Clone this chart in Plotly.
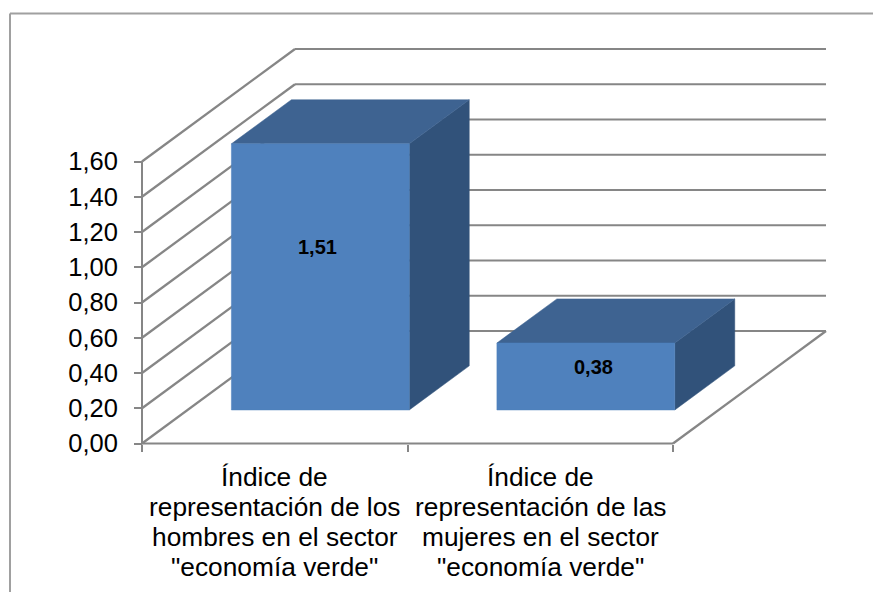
import plotly.graph_objects as go

# --- data ---
category_lines = [['Índice de', 'representación de los', 'hombres en el sector', '"economía verde"'],
                  ['Índice de', 'representación de las', 'mujeres en el sector', '"economía verde"']]
values = [1.51, 0.38]
value_labels = ['1,51', '0,38']
y_ticks = [0, 0.2, 0.4, 0.6, 0.8, 1.0, 1.2, 1.4, 1.6]
y_tick_labels = ['0,00', '0,20', '0,40', '0,60', '0,80', '1,00', '1,20', '1,40', '1,60']

# --- geometry of the oblique projection (page has an 8px body margin) ---
PAGE_MARGIN = 8
W, H = 881 - PAGE_MARGIN, 592 - PAGE_MARGIN
X0, Y0 = 142 - PAGE_MARGIN, 443.5 - PAGE_MARGIN   # pixel of the origin
UX = 265.5               # pixels per category
UY = 176.25              # pixels per value unit
DX, DY = 153 / UX, 112.5 / UY   # depth vector, in axis units
BAR_MARGIN = 0.165
BAR_D0, BAR_D1 = 0.298, 0.69
LABEL_SHIFT = [(-3, 30), (8, 9)]
LINE_PITCH = 30
FIRST_LINE = 33

GRID = '#868686'
FRONT, TOP, SIDE = '#4F81BD', '#3E6391', '#31527A'
FONT = 'Liberation Sans, Arial, sans-serif'
TICK_FONT_SIZE = 25.5
CAT_FONT_SIZE = 26.3


def pr(u, v, d=0.0):
    return u + DX * d, v + DY * d


def poly(points, color):
    xs = [p[0] for p in points] + [points[0][0]]
    ys = [p[1] for p in points] + [points[0][1]]
    return go.Scatter(x=xs, y=ys, mode='lines', fill='toself', fillcolor=color,
                      line=dict(color=color, width=0.5), hoverinfo='skip', showlegend=False)


def segs(pairs, width=2):
    xs, ys = [], []
    for a, b in pairs:
        xs += [a[0], b[0], None]
        ys += [a[1], b[1], None]
    return go.Scatter(x=xs, y=ys, mode='lines', line=dict(color=GRID, width=width),
                      hoverinfo='skip', showlegend=False)


n = len(values)
fig = go.Figure()
annotations = []

# walls: back gridlines, side-wall gridlines, floor, axes
fig.add_trace(segs([(pr(0, t, 1), pr(n, t, 1)) for t in y_ticks]))
fig.add_trace(segs([(pr(0, t, 0), pr(0, t, 1)) for t in y_ticks], width=2.3))
fig.add_trace(segs([(pr(n, 0, 0), pr(n, 0, 1))], width=2.3))
fig.add_trace(segs([(pr(0, 0), pr(n, 0)), (pr(0, 0), pr(0, y_ticks[-1]))]))

# bars
for i, v in enumerate(values):
    a, b = i + BAR_MARGIN, i + 1 - BAR_MARGIN
    fig.add_trace(poly([pr(b, 0, BAR_D0), pr(b, 0, BAR_D1), pr(b, v, BAR_D1), pr(b, v, BAR_D0)], SIDE))
    fig.add_trace(poly([pr(a, v, BAR_D0), pr(b, v, BAR_D0), pr(b, v, BAR_D1), pr(a, v, BAR_D1)], TOP))
    fig.add_trace(poly([pr(a, 0, BAR_D0), pr(b, 0, BAR_D0), pr(b, v, BAR_D0), pr(a, v, BAR_D0)], FRONT))
    cx, cy = pr((a + b) / 2, v / 2, BAR_D0)
    annotations.append(dict(x=cx, y=cy, xref='x', yref='y', text='<b>%s</b>' % value_labels[i],
                            showarrow=False, font=dict(family=FONT, size=20, color='#000000'),
                            xshift=LABEL_SHIFT[i][0], yshift=LABEL_SHIFT[i][1]))

# category labels, one per text line
for i, lines in enumerate(category_lines):
    for j, line in enumerate(lines):
        annotations.append(dict(x=i + 0.5, y=0, xref='x', yref='y', text=line, showarrow=False,
                                font=dict(family=FONT, size=CAT_FONT_SIZE, color='#000000'),
                                yshift=-(FIRST_LINE + j * LINE_PITCH)))

fig.update_layout(
    width=W, height=H, autosize=False,
    margin=dict(l=0, r=0, t=0, b=0),
    paper_bgcolor='white', plot_bgcolor='white',
    showlegend=False,
    font=dict(family=FONT, size=TICK_FONT_SIZE, color='#000000'),
    annotations=annotations,
    xaxis=dict(range=[-X0 / UX, (W - X0) / UX], domain=[0, 1], anchor='free',
               position=1 - Y0 / H, showgrid=False, zeroline=False, showline=False,
               tickmode='array', tickvals=list(range(n + 1)), showticklabels=False,
               ticks='outside', ticklen=7, tickwidth=2, tickcolor=GRID),
    yaxis=dict(range=[(Y0 - H) / UY, Y0 / UY], domain=[0, 1], anchor='free',
               position=X0 / W, showgrid=False, zeroline=False, showline=False,
               tickmode='array', tickvals=y_ticks, ticktext=y_tick_labels,
               ticks='outside', ticklen=8, tickwidth=2, tickcolor=GRID, ticklabelstandoff=11),
    shapes=[dict(type='line', xref='paper', yref='paper', x0=2 / W, x1=1, y0=1 - 5.5 / H, y1=1 - 5.5 / H,
                 line=dict(color='#A0A0A0', width=2)),
            dict(type='line', xref='paper', yref='paper', x0=2 / W, x1=2 / W, y0=0, y1=1 - 5.5 / H,
                 line=dict(color='#A0A0A0', width=2))],
)

fig.write_html('out.html')
